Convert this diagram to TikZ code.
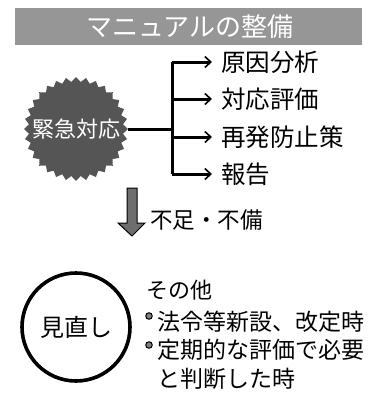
\documentclass[tikz,border=0pt]{standalone}
\usepackage{fontspec}
\setmainfont{Noto Sans CJK JP}
\usepackage{tikz}
\usetikzlibrary{shapes.geometric, arrows.meta}
\definecolor{barColor}{RGB}{150, 150, 150}
\definecolor{burstColor}{RGB}{85, 85, 85}
\definecolor{arrowColor}{RGB}{110, 110, 110}

\begin{document}
\begin{tikzpicture}[x=1pt, y=1pt,
		jtext/.style={inner sep=0pt, anchor=west, font=\fontsize{23pt}{25pt}\selectfont},
		itemtext/.style={inner xsep=9pt, inner ysep=0pt, anchor=west, font=\fontsize{24.5pt}{26pt}\selectfont},
		branch/.style={line width=3pt, -{Straight Barb[length=6pt, width=11pt, line width=1.6pt]}},
		bullet/.style={circle, draw=black, fill=gray, line width=1pt, inner sep=0pt, minimum size=6.5pt}]
	\useasboundingbox (0,0) rectangle (368,-407);
	
	% Title bar
	\fill[barColor] (15,-8) rectangle (362,-45);
	\node[text=white, font=\fontsize{26pt}{28pt}\selectfont] (title) at (190,-27) {マニュアルの整備};
	
	% Emergency burst and its four items
	\node[star, star points=32, star point ratio=1.1, minimum size=104pt, fill=burstColor, inner sep=0pt] (burst) at (76,-129) {};
	\node[text=white, font=\fontsize{22pt}{24pt}\selectfont] (burstlabel) at (burst) {緊急対応};
	
	\node[itemtext] (cause) at (212,-62) {原因分析};
	\node[itemtext] (assess) at (212,-99) {対応評価};
	\node[itemtext] (prevent) at (212,-137) {再発防止策};
	\node[itemtext] (report) at (212,-174) {報告};
	
	\coordinate (fork) at (172,-129);
	\draw[line width=3pt] (burst.east) -- (fork);
	\draw[line width=3pt] (fork |- cause.west) -- (fork |- report.west);
	\foreach \item in {cause, assess, prevent, report}
		\draw[branch] (fork |- \item.west) -- (\item.west);
	
	% Block arrow down
	\draw[fill=arrowColor, line width=1pt] (127,-188) -- (137,-188) -- (137,-223) -- (145,-223)
		-- (132,-236) -- (118,-223) -- (127,-223) -- cycle;
	\node[jtext, font=\fontsize{22.5pt}{24pt}\selectfont] (lack) at (150,-220) {不足・不備};
	
	% Review circle
	\node[circle, draw=black, line width=3.6pt, minimum size=108pt, fill=white, inner sep=0pt,
		font=\fontsize{24pt}{26pt}\selectfont] (review) at (76,-327) {見直し};
	
	% Other triggers
	\node[jtext, font=\fontsize{22pt}{24pt}\selectfont] (other) at (146,-290) {その他};
	\node[bullet] (dot1) at (149,-316) {};
	\node[jtext] (law) at (157,-322) {法令等新設、改定時};
	\node[bullet] (dot2) at (149,-345) {};
	\node[jtext] (periodic) at (157,-350) {定期的な評価で必要};
	\node[jtext] (judged) at (157,-379) {と判断した時};
\end{tikzpicture}
\end{document}
